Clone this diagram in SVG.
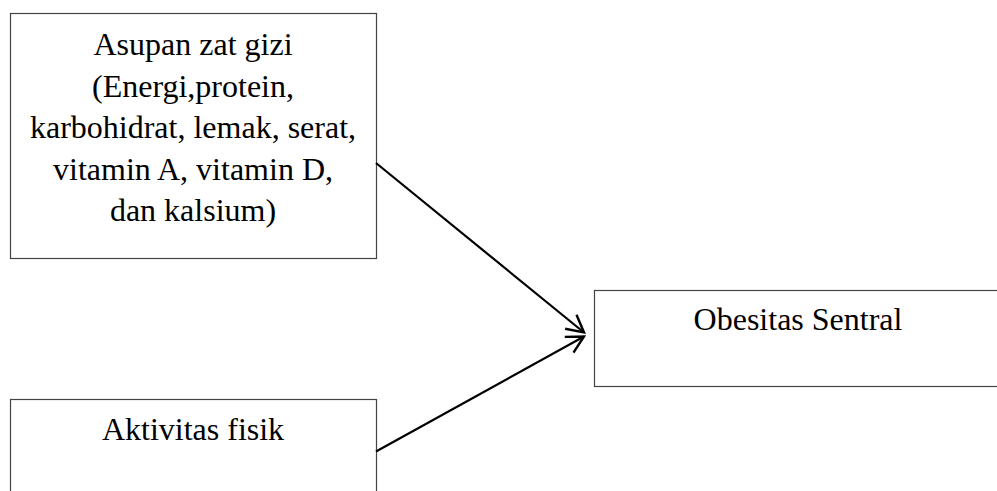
<svg xmlns="http://www.w3.org/2000/svg" width="997" height="491" viewBox="0 0 997 491">
<style>
.box{fill:#fff;stroke:#444;stroke-width:1.2}
.t{font-family:"Liberation Serif","Times New Roman",serif;font-size:32px;fill:#000;text-anchor:middle}
.c{fill:none;stroke:#000;stroke-width:2.2}
</style>
<defs>
<marker id="ah" markerUnits="userSpaceOnUse" markerWidth="40" markerHeight="40" refX="0" refY="0" viewBox="-20 -20 40 40" orient="auto" overflow="visible">
<path d="M -17 -9 L 0 0 L -17 9" fill="none" stroke="#000" stroke-width="2.4"/>
</marker>
</defs>
<rect width="997" height="491" fill="#fff"/>
<g id="asupan">
<rect class="box" x="10.5" y="13.5" width="366" height="245"/>
<text class="t" x="193" y="55">Asupan zat gizi</text>
<text class="t" x="193" y="96.5">(Energi,protein,</text>
<text class="t" x="193" y="138">karbohidrat, lemak, serat,</text>
<text class="t" x="193" y="179.5">vitamin A, vitamin D,</text>
<text class="t" x="193" y="221">dan kalsium)</text>
</g>
<g id="obesitas">
<rect class="box" x="594.5" y="290.5" width="410" height="96"/>
<text class="t" x="798" y="330">Obesitas Sentral</text>
</g>
<g id="aktivitas">
<rect class="box" x="10.5" y="399.5" width="366" height="110"/>
<text class="t" x="193" y="440">Aktivitas fisik</text>
</g>
<g id="connectors">
<line class="c" x1="376" y1="163" x2="584" y2="332.5" marker-end="url(#ah)"/>
<line class="c" x1="376" y1="451.5" x2="584" y2="336.5" marker-end="url(#ah)"/>
</g>
</svg>
